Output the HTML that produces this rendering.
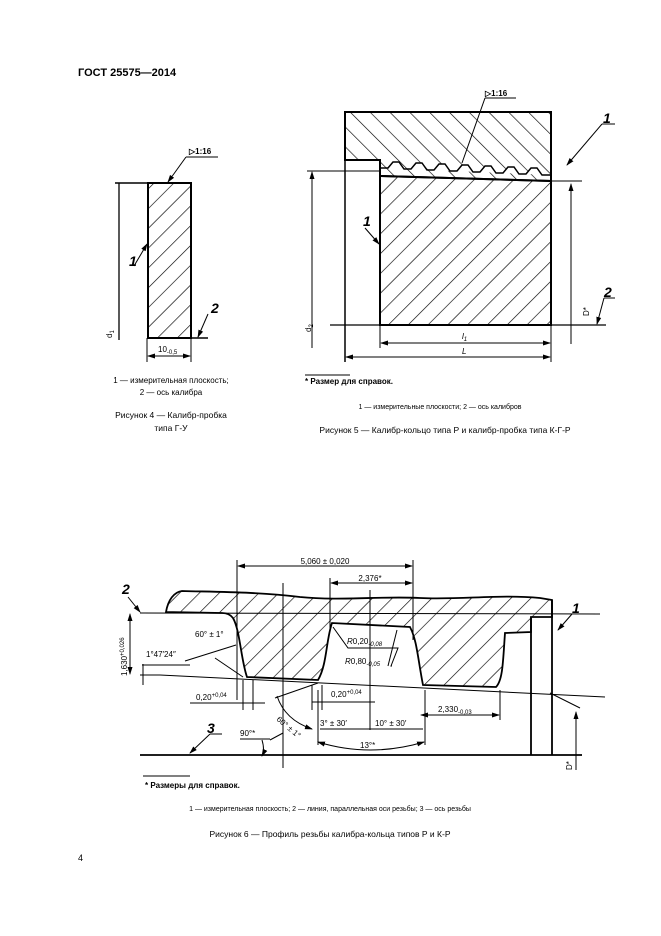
<!DOCTYPE html>
<html><head><meta charset="utf-8"><style>
body{margin:0;background:#fff;}
svg{display:block;font-family:"Liberation Sans",sans-serif;}
.t{font-size:8px;}
.b{font-weight:bold;}
.n{font-size:14px;font-style:italic;font-weight:bold;}
</style></head><body>
<svg width="661" height="936" viewBox="0 0 661 936">
<defs>
<pattern id="hs" width="14" height="14" patternUnits="userSpaceOnUse" patternTransform="rotate(45)"><line x1="0" y1="0" x2="0" y2="14" stroke="#000" stroke-width="1.3"/></pattern>
<pattern id="hb" width="14" height="14" patternUnits="userSpaceOnUse" patternTransform="rotate(-45)"><line x1="0" y1="0" x2="0" y2="14" stroke="#000" stroke-width="1.3"/></pattern>
<marker id="a" markerWidth="8" markerHeight="6" refX="7" refY="3" orient="auto-start-reverse"><path d="M0,0.5 L8,3 L0,5.5z" fill="#000"/></marker>
</defs>
<text x="78" y="76" class="b" font-size="11">ГОСТ 25575—2014</text>

<!-- Fig 4 -->
<g stroke="#000" fill="none">
<rect x="148" y="183" width="43" height="155" fill="url(#hs)" stroke-width="2"/>
<line x1="115" y1="183" x2="191" y2="183" stroke-width="1.5"/>
<line x1="119" y1="183" x2="119" y2="340" stroke-width="1.3"/>
<line x1="147" y1="338" x2="208" y2="338" stroke-width="1.5"/>
<line x1="147" y1="338" x2="147" y2="362"/><line x1="191" y1="338" x2="191" y2="362"/>
<line x1="148" y1="356" x2="190" y2="356" marker-start="url(#a)" marker-end="url(#a)"/>
<line x1="186" y1="157" x2="168" y2="182" marker-end="url(#a)"/>
<line x1="186" y1="157" x2="218" y2="157"/>
<line x1="134" y1="266" x2="147" y2="244" marker-end="url(#a)"/>
<line x1="208" y1="314" x2="198" y2="337" marker-end="url(#a)"/>
</g>
<text x="189" y="154" class="t b">▷1:16</text>
<text x="129" y="266" class="n">1</text>
<text x="211" y="313" class="n">2</text>
<text x="112" y="338" class="t" transform="rotate(-90 112 338)">d<tspan font-size="6" dy="2">1</tspan></text>
<text x="158" y="352" class="t">10<tspan font-size="6" dy="2">-0,5</tspan></text>
<text x="171" y="383" class="t" text-anchor="middle" font-size="7">1 — измерительная плоскость;</text>
<text x="171" y="395" class="t" text-anchor="middle" font-size="7">2 — ось калибра</text>
<text x="171" y="418" text-anchor="middle" font-size="8.5">Рисунок 4 — Калибр-пробка</text>
<text x="171" y="431" text-anchor="middle" font-size="8.5">типа Г-У</text>

<!-- Fig 5 -->
<g stroke="#000" fill="none">
<path d="M345,112 L551,112 L551,181 L380,176 L380,160 L345,160 Z" fill="url(#hb)" stroke-width="2"/>
<path d="M380,176 L551,181 L551,325 L380,325 Z" fill="url(#hs)" stroke-width="2"/>
<path d="M380,168 L388,168 L393,162 L399,162 L404,169 L411,169 L416,163 L422,163 L427,170 L434,170 L439,164 L445,164 L450,171 L457,171 L462,165 L468,165 L473,172 L480,172 L485,166 L491,166 L496,173 L503,173 L508,167 L514,167 L519,174 L526,174 L531,168 L537,168 L542,175 L551,175" fill="#fff" stroke-width="1.5"/>
<line x1="345" y1="160" x2="345" y2="362" stroke-width="1.5"/>
<line x1="307" y1="171" x2="380" y2="171"/>
<line x1="312" y1="172" x2="312" y2="348" marker-start="url(#a)"/>
<line x1="330" y1="325" x2="606" y2="325" stroke-width="1.3"/>
<line x1="551" y1="181" x2="582" y2="181"/>
<line x1="571" y1="184" x2="571" y2="344" marker-start="url(#a)"/>
<line x1="380" y1="325" x2="380" y2="348"/><line x1="551" y1="325" x2="551" y2="362"/>
<line x1="381" y1="343" x2="550" y2="343" marker-start="url(#a)" marker-end="url(#a)"/>
<line x1="346" y1="357" x2="550" y2="357" marker-start="url(#a)" marker-end="url(#a)"/>
<line x1="485" y1="98" x2="462" y2="163"/><line x1="485" y1="98" x2="516" y2="98"/>
<line x1="602" y1="124" x2="567" y2="165" marker-end="url(#a)"/><line x1="602" y1="124" x2="615" y2="124"/>
<line x1="365" y1="228" x2="379" y2="244" marker-end="url(#a)"/>
<line x1="604" y1="298" x2="597" y2="324" marker-end="url(#a)"/><line x1="604" y1="298" x2="615" y2="298"/>
<line x1="305" y1="375" x2="350" y2="375"/>
</g>
<text x="485" y="96" class="t b">▷1:16</text>
<text x="603" y="123" class="n">1</text>
<text x="363" y="226" class="n">1</text>
<text x="604" y="297" class="n">2</text>
<text x="311" y="332" class="t" transform="rotate(-90 311 332)">d<tspan font-size="6" dy="2">2</tspan></text>
<text x="589" y="316" class="t" transform="rotate(-90 589 316)">D*</text>
<text x="462" y="339" class="t" font-style="italic">l<tspan font-size="6" dy="2">1</tspan></text>
<text x="462" y="354" class="t" font-style="italic">L</text>
<text x="305" y="384" class="t b" font-size="7">* Размер для справок.</text>
<text x="440" y="409" text-anchor="middle" font-size="7">1 — измерительные плоскости; 2 — ось калибров</text>
<text x="445" y="433" text-anchor="middle" font-size="8.5">Рисунок 5 — Калибр-кольцо типа Р и калибр-пробка типа К-Г-Р</text>

<!-- Fig 6 -->
<g stroke="#000" fill="none">
<path d="M166,612 C168,600 174,592 182,591 C220,592 260,592 300,597 C340,601 380,596 420,598 C460,600 500,594 540,598 L552,600 L552,617 L531,617 L531,632 L505,633 C503,660 503,680 496,687 L423,685 C418,660 417,640 410,627 L332,623 C326,640 327,665 318,680 L247,677 C241,660 240,630 233,618 C230,614 226,613 222,613 Z" fill="url(#hs)" stroke-width="1.8"/>
<line x1="140" y1="613" x2="600" y2="614"/>
<line x1="160" y1="675" x2="605" y2="697"/>
<line x1="550" y1="693" x2="580" y2="708"/>
<line x1="140" y1="755" x2="582" y2="755" stroke-width="1.8"/>
<line x1="531" y1="617" x2="531" y2="755" stroke-width="1.8"/>
<line x1="552" y1="600" x2="552" y2="755" stroke-width="1.8"/>
<line x1="237" y1="560" x2="237" y2="700"/>
<line x1="413" y1="560" x2="413" y2="640"/>
<line x1="330" y1="578" x2="330" y2="630"/>
<line x1="283" y1="583" x2="283" y2="768"/>
<line x1="370" y1="590" x2="370" y2="730"/>
<line x1="238" y1="566" x2="412" y2="566" marker-start="url(#a)" marker-end="url(#a)"/>
<line x1="331" y1="583" x2="412" y2="583" marker-start="url(#a)" marker-end="url(#a)"/>
<line x1="130" y1="614" x2="130" y2="674" marker-start="url(#a)" marker-end="url(#a)"/>
<line x1="140" y1="675" x2="160" y2="675"/>
<line x1="142" y1="665" x2="190" y2="665"/>
<line x1="143" y1="664" x2="143" y2="685"/>
<line x1="185" y1="661" x2="236" y2="645"/>
<line x1="215" y1="658" x2="243" y2="677"/>
<line x1="190" y1="703" x2="265" y2="703"/>
<line x1="243" y1="680" x2="243" y2="710"/><line x1="253" y1="680" x2="253" y2="710"/>
<line x1="275" y1="698" x2="318" y2="683"/>
<line x1="312" y1="702" x2="375" y2="702"/>
<line x1="312" y1="685" x2="312" y2="710"/><line x1="322" y1="685" x2="322" y2="710"/>
<path d="M333,627 L348,648 L398,648 L391,666 L392,666"/>
<line x1="397" y1="630" x2="388" y2="666"/>
<line x1="421" y1="715" x2="499" y2="715" marker-start="url(#a)" marker-end="url(#a)"/>
<line x1="500" y1="690" x2="500" y2="720"/>
<line x1="576" y1="712" x2="576" y2="770" marker-start="url(#a)"/>
<line x1="318" y1="690" x2="318" y2="745"/>
<line x1="425" y1="690" x2="425" y2="745"/>
<line x1="320" y1="729" x2="423" y2="729"/>
<path d="M318,742 Q370,758 424,742" marker-start="url(#a)" marker-end="url(#a)"/>
<path d="M277,696 Q285,720 312,729" marker-end="url(#a)"/>
<path d="M262,740 Q265,750 262,756" marker-end="url(#a)"/>
<line x1="270" y1="740" x2="283" y2="733"/>
<line x1="240" y1="739" x2="270" y2="739"/>
<line x1="210" y1="734" x2="190" y2="753" marker-end="url(#a)"/><line x1="210" y1="734" x2="222" y2="734"/>
<line x1="128" y1="597" x2="140" y2="612" marker-end="url(#a)"/>
<line x1="572" y1="614" x2="558" y2="630" marker-end="url(#a)"/>
<line x1="143" y1="776" x2="190" y2="776"/>
</g>
<g class="t">
<text x="325" y="564" text-anchor="middle">5,060 ± 0,020</text>
<text x="370" y="581" text-anchor="middle">2,376*</text>
<text x="195" y="637">60° ± 1°</text>
<text x="146" y="657">1°47′24″</text>
<text x="127" y="676" transform="rotate(-90 127 676)">1,630<tspan font-size="6" dy="-3">+0,026</tspan></text>
<text x="347" y="644" font-style="italic">R<tspan font-style="normal">0,20</tspan><tspan font-size="6" dy="2">-0,08</tspan></text>
<text x="345" y="664" font-style="italic">R<tspan font-style="normal">0,80</tspan><tspan font-size="6" dy="2">-0,05</tspan></text>
<text x="196" y="700">0,20<tspan font-size="6" dy="-3">+0,04</tspan></text>
<text x="331" y="697">0,20<tspan font-size="6" dy="-3">+0,04</tspan></text>
<text x="438" y="712">2,330<tspan font-size="6" dy="2">-0,03</tspan></text>
<text x="320" y="726">3° ± 30′</text>
<text x="375" y="726">10° ± 30′</text>
<text x="360" y="748">13°*</text>
<text x="240" y="736">90°*</text>
<text x="276" y="720" transform="rotate(40 276 720)">60° ± 1°</text>
<text x="572" y="770" transform="rotate(-90 572 770)">D*</text>
</g>
<text x="122" y="594" class="n">2</text>
<text x="207" y="733" class="n">3</text>
<text x="572" y="613" class="n">1</text>
<text x="145" y="788" class="t b" font-size="7">* Размеры для справок.</text>
<text x="330" y="811" text-anchor="middle" font-size="7">1 — измерительная плоскость; 2 — линия, параллельная оси резьбы; 3 — ось резьбы</text>
<text x="330" y="837" text-anchor="middle" font-size="8.5">Рисунок 6 — Профиль резьбы калибра-кольца типов Р и К-Р</text>
<text x="78" y="861" font-size="9">4</text>
</svg>
</body></html>
